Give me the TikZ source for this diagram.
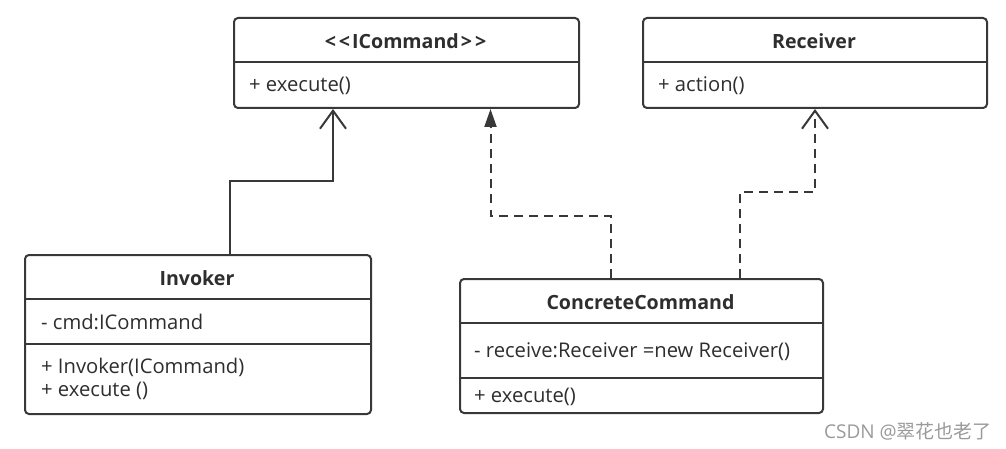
\documentclass[tikz,border=0pt]{standalone}
\usepackage{fontspec}
\setmainfont{Open Sans}
\newfontfamily\cjk{Noto Sans CJK SC}
\usetikzlibrary{arrows.meta}
\definecolor{linec}{HTML}{383838}
\definecolor{textc}{HTML}{2E2E2E}
\definecolor{markc}{HTML}{9A9A9A}
\newcommand{\lt}{\mbox{<}}
\newcommand{\gtc}{\mbox{>}}
\begin{document}
\begin{tikzpicture}[x=1pt,y=-1pt,
  box/.style={draw=linec, line width=2pt, rounded corners=4pt, anchor=north west, inner sep=0pt},
  divl/.style={draw=linec, line width=2pt},
  title/.style={font=\fontsize{19.6}{21}\selectfont\bfseries, text=textc, inner sep=0pt},
  member/.style={font=\fontsize{20.2}{22}\selectfont, text=textc, inner sep=0pt, anchor=west},
  conn/.style={draw=linec, line width=2pt},
  dashconn/.style={conn, dash pattern=on 9pt off 6pt},
  openarr/.style={-{Straight Barb[length=18pt,width=26pt,line width=2pt]}},
  filledarr/.style={-{Triangle[length=18pt,width=12pt]}}
]
\useasboundingbox (0,0) rectangle (1006,449);
\fill[white] (0,0) rectangle (1006,449);

% ICommand
\node[box, minimum width=345pt, minimum height=90pt] (ic) at (233,17) {};
\draw[divl] ([yshift=-45pt]ic.north west) -- ([yshift=-45pt]ic.north east);
\node[title] (ict) at (405.5,41) {\lt\kern3pt\lt\kern2pt ICommand\kern2pt\gtc\kern3pt\gtc};
\node[member] (icm) at (249,86) {+ execute()};

% Receiver
\node[box, minimum width=344pt, minimum height=90pt] (rc) at (642,17) {};
\draw[divl] ([yshift=-45pt]rc.north west) -- ([yshift=-45pt]rc.north east);
\node[title] (rct) at (814,41) {Receiver};
\node[member] (rcm) at (658,86) {+ action()};

% Invoker
\node[box, minimum width=346pt, minimum height=159pt] (inv) at (24,254) {};
\draw[divl] ([yshift=-45pt]inv.north west) -- ([yshift=-45pt]inv.north east);
\draw[divl] ([yshift=-90pt]inv.north west) -- ([yshift=-90pt]inv.north east);
\node[title] (invt) at (197,278) {Invoker};
\node[member] (inva) at (41,322) {- cmd:ICommand};
\node[member] (invm1) at (41,367) {+ Invoker(ICommand)};
\node[member] (invm2) at (41,391) {+ execute ()};

% ConcreteCommand
\node[box, minimum width=363pt, minimum height=134pt] (cc) at (459,278) {};
\draw[divl] ([yshift=-45pt]cc.north west) -- ([yshift=-45pt]cc.north east);
\draw[divl] ([yshift=-100pt]cc.north west) -- ([yshift=-100pt]cc.north east);
\node[title] (cct) at (640.5,302) {ConcreteCommand};
\node[member] (cca) at (474,352) {- receive:Receiver =new Receiver()};
\node[member] (ccm) at (474,397) {+ execute()};

% connectors
\coordinate (b1) at (333,181);
\coordinate (b2) at (490.5,216);
\coordinate (b3) at (815,192);
\draw[conn, openarr] ([xshift=32pt]inv.north) |- (b1) -- (b1 |- ic.south);
\draw[dashconn, filledarr] ([xshift=-30.5pt]cc.north) |- (b2) -- (b2 |- ic.south);
\draw[dashconn, openarr] ([xshift=98.5pt]cc.north) |- (b3) -- (b3 |- rc.south);

% watermark
\node[font=\fontsize{19}{21}\selectfont, text=markc, anchor=east, inner sep=0pt] (wm) at (992,431) {CSDN @{\cjk 翠花也老了}};
\end{tikzpicture}
\end{document}
